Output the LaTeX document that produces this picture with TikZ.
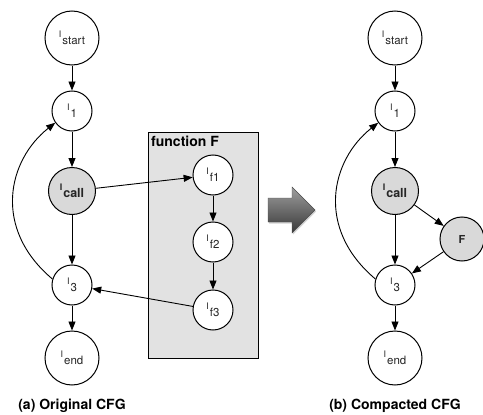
\documentclass[tikz,border=0pt]{standalone}
\usepackage{fontspec}
\setmainfont{TeX Gyre Heros}
\usetikzlibrary{arrows.meta,shadows,calc}
\definecolor{nodegray}{HTML}{D9D9D9}
\definecolor{boxgray}{HTML}{E2E2E2}
\newcommand\Isub[1]{\raisebox{7pt}{\fontsize{9}{10}\selectfont I}\kern1pt{\fontsize{11.5}{13}\selectfont #1}}
\newcommand\Isubb[1]{\raisebox{7pt}{\fontsize{9}{10}\selectfont\bfseries I}\kern1pt{\fontsize{12.5}{14}\selectfont\bfseries #1}}
\begin{document}
\begin{tikzpicture}[x=1pt,y=-1pt,
  cfgnode/.style={circle,draw=black,line width=1pt,fill=white,inner sep=0pt,text=black!85},
  bignode/.style={cfgnode,minimum size=54pt},
  smallnode/.style={cfgnode,minimum size=40pt},
  callnode/.style={cfgnode,minimum size=47pt,fill=nodegray},
  edge/.style={-{Triangle[length=9pt,width=7pt]},line width=0.9pt},
  caption/.style={font=\fontsize{14}{16}\selectfont\bfseries}]
\useasboundingbox (0,0) rectangle (483,415);
% function box
\node[draw=black,line width=0.9pt,fill=boxgray,minimum width=110pt,minimum height=226pt,anchor=north west,inner sep=0pt] (fbox) at (148,132) {};
\node[anchor=base west,font=\fontsize{14}{16}\selectfont\bfseries,inner sep=0pt] (flabel) at (151,146) {function F};
% (a)
\node[bignode] (as) at (72,38) {\Isub{start}};
\node[smallnode] (a1) at (72,111) {\Isub{1}};
\node[callnode] (ac) at (72,191) {\Isubb{call}};
\node[smallnode] (a3) at (72,285) {\Isub{3}};
\node[bignode] (ae) at (72,358) {\Isub{end}};
\node[smallnode] (f1) at (213,175) {\Isub{f1}};
\node[smallnode] (f2) at (213,242) {\Isub{f2}};
\node[smallnode] (f3) at (213,310) {\Isub{f3}};
\draw[edge] (as) -- (a1);
\draw[edge] (a1) -- (ac);
\draw[edge] (ac) -- (a3);
\draw[edge] (a3) -- (ae);
\draw[edge] (ac) -- (f1);
\draw[edge] (f1) -- (f2);
\draw[edge] (f2) -- (f3);
\draw[edge] (f3) -- (a3);
\draw[edge] (a3.163) .. controls (-8,228) and (8,160) .. (a1.215);
\node[caption] (capa) at (72,406) {(a) Original CFG};
% big arrow
\path[draw=black!70,line width=0.4pt,top color=black!38,bottom color=black!78,drop shadow={shadow xshift=1pt,shadow yshift=-1.5pt,opacity=0.35}]
  (268,198) -- (292,198) -- (292,187) -- (315,210) -- (292,233) -- (292,222) -- (268,222) -- cycle;
% (b)
\node[bignode] (bs) at (395,38) {\Isub{start}};
\node[smallnode] (b1) at (395,111) {\Isub{1}};
\node[callnode] (bc) at (395,191) {\Isubb{call}};
\node[callnode,minimum size=44pt,font=\fontsize{11}{13}\selectfont\bfseries] (bf) at (462,239) {F};
\node[smallnode] (b3) at (395,285) {\Isub{3}};
\node[bignode] (be) at (395,358) {\Isub{end}};
\draw[edge] (bs) -- (b1);
\draw[edge] (b1) -- (bc);
\draw[edge] (bc) -- (b3);
\draw[edge] (b3) -- (be);
\draw[edge] (bc) -- (bf);
\draw[edge] (bf) -- (b3);
\draw[edge] (b3.163) .. controls (315,228) and (331,160) .. (b1.215);
\node[caption] (capb) at (395,406) {(b) Compacted CFG};
\end{tikzpicture}
\end{document}
